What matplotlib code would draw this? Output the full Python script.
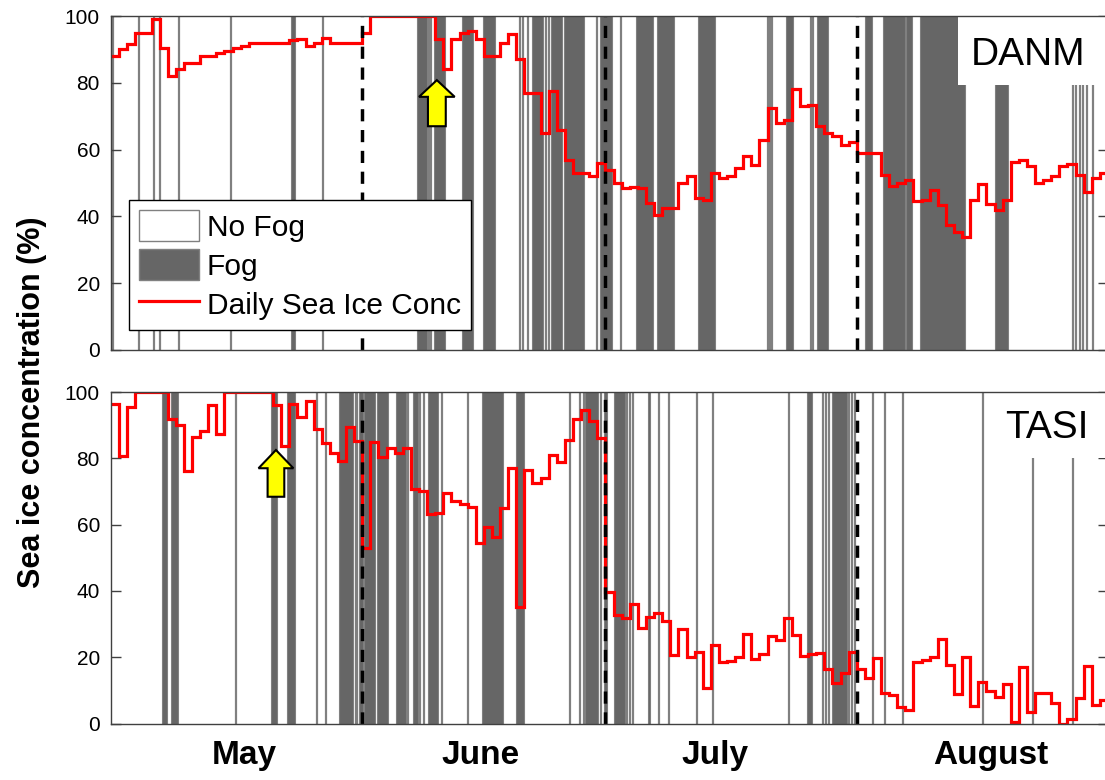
import matplotlib
matplotlib.use('Agg')
import matplotlib.pyplot as plt
import numpy as np
from matplotlib.patches import Patch, Rectangle, FancyArrow
from matplotlib.lines import Line2D

plt.rcParams['font.family'] = ['Liberation Sans', 'DejaVu Sans']

# ---------------- data (days since 1 May) ----------------
months = ['May', 'June', 'July', 'August']
month_bounds = [31, 61, 92]

danm_ice = [88, 90, 91.5, 95, 95, 99, 90.5, 82, 84, 86, 86, 88, 88, 89, 89.5, 90.5, 91, 92, 92, 92,
            92, 92, 92.8, 93, 91, 92, 93.5, 92, 92, 92, 92,
            95, 100, 100, 100, 100, 100, 100, 100, 100, 93, 84, 93, 95, 95.5, 93, 88, 88, 92, 94.5,
            87, 77, 77, 65, 77.5, 66, 57, 53, 53, 52, 56,
            54, 50, 48.5, 48.7, 48.5, 44, 40.4, 42.5, 42.5, 50, 52, 45.4, 45, 53, 51.5, 52, 54.4, 58,
            55.4, 63, 72.4, 68, 69, 78, 73, 73.3, 67, 65, 64, 61.4, 62.3,
            59, 59, 59, 52.4, 49, 50, 51, 44.5, 45, 48, 43.4, 37.4, 35.4, 33.8, 45, 49.7, 43.7, 42,
            45, 56.3, 57, 55, 50, 51, 52, 55.2, 55.6, 52.4, 47.4, 51.4, 53]

tasi_ice = [96.4, 80.7, 95.6, 100, 100, 100, 100, 91.8, 90, 76.3, 86.5, 88.3, 96, 87.3, 100, 100,
            100, 100, 100, 100, 96, 83.7, 96.4, 92.5, 97.4, 88.7, 84.7, 81.7, 79.3, 89.5, 85.2,
            52.8, 85, 80.5, 83, 81.7, 83, 70.6, 70.2, 63.2, 63.4, 69.6, 67.2, 66.2, 65.4, 54.3, 59.2,
            56.3, 65, 77, 35, 76.5, 72.5, 74, 81, 79, 85.5, 91.8, 94.6, 91.3, 86,
            39.8, 32.7, 31.7, 36, 28.7, 32.2, 33.2, 31, 20.7, 28.4, 20, 21.7, 10.6, 23.7, 18.6, 19,
            20.1, 27, 19.4, 21, 26.4, 25.2, 31.7, 26.7, 20.4, 21, 21.3, 16.3, 12.3, 15.3, 21.7,
            16.3, 13.6, 19.7, 9.3, 8.6, 4.9, 4.1, 18.6, 19.2, 20.2, 25.4, 17.6, 8.9, 20.2, 5.3, 12.6,
            9.9, 8.1, 11.9, 0.5, 17.1, 3.6, 9.1, 9.1, 6.3, 0, 1.3, 7.6, 17.3, 5.6, 7]

danm_fog_start = [22.2, 37.7, 39.85, 43.25, 45.95, 51.9, 54.25, 55.85, 60.35, 64.8, 67.4, 72.4,
                  83.3, 87.15, 93.0, 95.2, 98.1, 99.8, 109.05]
danm_fog_end = [22.7, 39.0, 41.2, 44.65, 47.4, 53.25, 55.7, 58.35, 61.8, 66.9, 69.4, 74.55,
                84.1, 88.5, 93.85, 98.0, 98.8, 105.35, 110.7]
danm_fog_lines = [0.3, 3.5, 5.25, 6.1, 8.4, 14.85, 26.15, 39.25, 39.5, 50.45, 50.85, 51.4, 53.7,
                  54.0, 60.0, 62.9, 81.1, 81.35, 81.6, 86.3, 86.65, 118.65, 119.05, 119.55,
                  119.95, 120.45, 121.1]

tasi_fog_start = [6.25, 7.4, 19.7, 21.75, 28.15, 30.55, 31.2, 32.85, 35.2, 37.3, 39.1, 45.75, 50.0,
                  58.45, 60.8, 62.0, 66.25, 85.9, 88.9]
tasi_fog_end = [6.85, 8.25, 20.5, 22.7, 29.9, 31.1, 32.55, 34.15, 36.35, 37.9, 40.35, 48.4, 50.95,
                60.05, 61.15, 63.45, 66.5, 86.45, 90.75]
tasi_fog_lines = [15.4, 25.4, 26.55, 30.2, 30.4, 36.7, 38.1, 38.6, 40.8, 44.1, 56.65, 57.8, 58.3,
                  60.4, 63.65, 64.05, 64.45, 67.55, 68.9, 72.25, 74.3, 83.7, 87.85, 88.2, 88.6,
                  91.05, 91.4, 91.8, 94.05, 95.55, 97.7, 107.6, 113.7, 118.65]

# ---------------- styling ----------------
FOG = '#666666'
EDGE = '#808080'
SPINE = '#404040'
month_label_pos = [16.4, 45.6, 74.5, 108.5]

fig = plt.figure(figsize=(11.05, 7.8), dpi=100)
L = 111 / 1105
W = 997 / 1105
ax1 = fig.add_axes([L, 1 - 350 / 780, W, 334 / 780])
ax2 = fig.add_axes([L, 1 - 723.5 / 780, W, 331.5 / 780])


def draw(ax, ice, fs, fe, fl, name, box, text_xy, arrow):
    s = np.array(fs)
    e = np.array(fe)
    ax.bar(s, 100, width=e - s, align='edge', color=FOG, edgecolor=EDGE, linewidth=0.8, zorder=1)
    ax.vlines(fl, 0, 100, color=EDGE, lw=1.6, zorder=1)
    edges = np.arange(len(ice) + 1)
    ax.stairs(ice, edges, baseline=None, color='red', lw=2.3, zorder=3)
    for b in month_bounds:
        ax.axvline(b, color='black', ls=(0, (3.5, 2.5)), lw=2.5, zorder=4)
    ax_x, hw, hl, w, y0, y1 = arrow
    ax.add_patch(FancyArrow(ax_x, y0, 0, y1 - y0, width=w, head_width=hw, head_length=hl,
                            length_includes_head=True, facecolor='#ffff00',
                            edgecolor='black', lw=1.5, zorder=5))
    ax.add_patch(Rectangle((box[0], box[1]), 1 - box[0], 1 - box[1], transform=ax.transAxes,
                           facecolor='white', edgecolor='none', zorder=5))
    ax.text(text_xy[0], text_xy[1], name, transform=ax.transAxes, fontsize=28,
            ha='center', va='baseline', zorder=6)
    ax.set_xlim(0, 123)
    ax.set_ylim(0, 100)
    ax.set_yticks([0, 20, 40, 60, 80, 100])
    ax.tick_params(axis='y', direction='in', length=7, width=1, left=True, right=True,
                   labelsize=15, pad=8, color=SPINE)
    for sp in ax.spines.values():
        sp.set_color(SPINE)
        sp.set_linewidth(1)
        sp.set_zorder(7)


draw(ax1, danm_ice, danm_fog_start, danm_fog_end, danm_fog_lines, 'DANM',
     ((958 - 111) / 997, (350 - 85) / 334), (0.92, 0.853),
     (40.2, 4.4, 5.0, 2.2, 67.0, 80.8))
draw(ax2, tasi_ice, tasi_fog_start, tasi_fog_end, tasi_fog_lines, 'TASI',
     ((993 - 111) / 997, (723.5 - 458) / 331.5), (0.939, 0.861),
     (20.35, 4.3, 5.5, 2.06, 68.4, 82.5))

ax1.set_xticks([])
ax2.set_xticks(month_label_pos)
ax2.set_xticklabels(months, fontsize=24, fontweight='bold')
ax2.tick_params(axis='x', length=0, pad=12)

handles = [Patch(facecolor='white', edgecolor=EDGE, lw=1),
           Patch(facecolor=FOG, edgecolor=EDGE, lw=1),
           Line2D([], [], color='red', lw=2.3)]
leg = ax1.legend(handles, ['No Fog', 'Fog', 'Daily Sea Ice Conc'], loc='lower left',
                 bbox_to_anchor=(0.018, 0.06), borderaxespad=0, fontsize=21.5,
                 fancybox=False, framealpha=1, edgecolor='black', handlelength=2.0,
                 handleheight=1.2, labelspacing=0.25, handletextpad=0.25, borderpad=0.35)
leg.get_frame().set_linewidth(1)
leg.set_zorder(8)

fig.text(32 / 1105, 1 - 402 / 780, 'Sea ice concentration (%)', rotation=90, fontsize=22,
         fontweight='bold', ha='center', va='center')

fig.savefig('out.png', dpi=100)
